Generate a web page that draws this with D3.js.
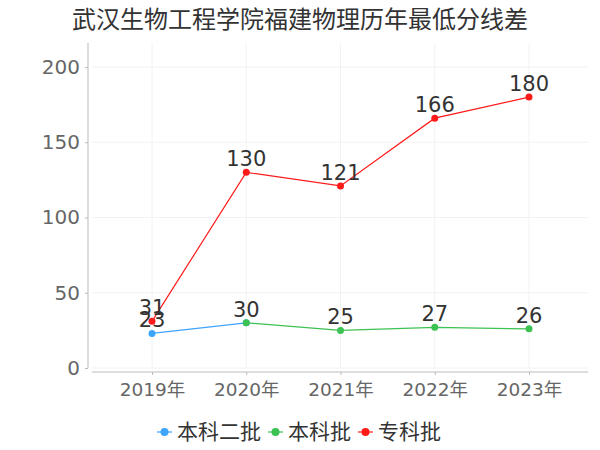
<!DOCTYPE html>
<html>
  <head>
    <meta charset="utf-8">
    <script src="https://d3js.org/d3.v7.min.js"></script>
    <style>
      body { margin: 0; background: white; }
      text { font-family: "DejaVu Sans", "Noto Sans CJK SC", sans-serif; }
      .cjk { font-family: "Noto Sans CJK SC", sans-serif; }
    </style>
  </head>
  <body>
    <div id="chart"></div>
<script>
var title = "武汉生物工程学院福建物理历年最低分线差";
var years = ["2019年", "2020年", "2021年", "2022年", "2023年"];
var yTicks = [0, 50, 100, 150, 200];

// null = no value that year
var seriesNames = ["本科二批", "本科批", "专科批"];
var seriesColors = ["#3ea5ff", "#3cc252", "#ff1a1a"];
var benke2 = [23, 30, null, null, null];
var benke = [null, 30, 25, 27, 26];
var zhuanke = [31, 130, 121, 166, 180];

var seriesValues = [benke2, benke, zhuanke];

var width = 600, height = 450;

var svg = d3.select("#chart").append("svg")
  .attr("width", width)
  .attr("height", height)
  .style("background", "white");

var x = d3.scalePoint()
  .domain(years)
  .range([152, 529]);

var y = d3.scaleLinear()
  .domain([0, 200])
  .range([368, 67]);

// grid
svg.append("g").selectAll("line.h")
  .data(yTicks)
  .enter().append("line")
  .attr("x1", 92).attr("x2", 588)
  .attr("y1", function(d) { return y(d); })
  .attr("y2", function(d) { return y(d); })
  .style("stroke", "#f2f2f2");

svg.append("g").selectAll("line.v")
  .data(years)
  .enter().append("line")
  .attr("x1", function(d) { return x(d); })
  .attr("x2", function(d) { return x(d); })
  .attr("y1", 43).attr("y2", 368)
  .style("stroke", "#f2f2f2");

// y axis
var yAxis = svg.append("g")
  .attr("transform", "translate(88,0)")
  .call(d3.axisLeft(y).tickValues(yTicks).tickSize(3).tickPadding(5));
yAxis.select(".domain").remove();
yAxis.append("line")
  .attr("x1", 0).attr("x2", 0).attr("y1", 43).attr("y2", 368)
  .style("stroke", "#bbb");
yAxis.selectAll(".tick line").style("stroke", "#bbb");
yAxis.selectAll(".tick text")
  .style("font-size", "20px")
  .style("fill", "#666")
  .style("font-family", "DejaVu Sans, sans-serif");

// x axis
var xAxis = svg.append("g")
  .attr("transform", "translate(0,372)")
  .call(d3.axisBottom(x).tickSize(3).tickPadding(8));
xAxis.select(".domain").remove();
xAxis.append("line")
  .attr("x1", 92).attr("x2", 588).attr("y1", 0).attr("y2", 0)
  .style("stroke", "#bbb");
xAxis.selectAll(".tick line").style("stroke", "#bbb");
xAxis.selectAll(".tick text")
  .style("font-size", "18.5px")
  .style("fill", "#666")
  .style("font-family", "DejaVu Sans, Noto Sans CJK SC, sans-serif");

// lines
var line = d3.line()
  .defined(function(d) { return d != null; })
  .x(function(d, i) { return x(years[i]); })
  .y(function(d) { return y(d); });

seriesValues.forEach(function(vals, s) {
  var g = svg.append("g");
  g.append("path")
    .datum(vals)
    .attr("d", line)
    .style("fill", "none")
    .style("stroke", seriesColors[s])
    .style("stroke-width", 1.2);

  var pts = vals.map(function(v, i) { return {v: v, i: i}; })
    .filter(function(d) { return d.v != null; });

  g.selectAll("circle")
    .data(pts)
    .enter().append("circle")
    .attr("cx", function(d) { return x(years[d.i]); })
    .attr("cy", function(d) { return y(d.v); })
    .attr("r", 3.5)
    .style("fill", seriesColors[s]);
});

// value labels on top, one per spot
var seen = {};
seriesValues.forEach(function(vals, s) {
  var pts = vals.map(function(v, i) { return {v: v, i: i}; })
    .filter(function(d) {
      if (d.v == null) return false;
      var k = d.i + "_" + d.v;
      if (seen[k]) return false;
      seen[k] = true;
      return true;
    });
  svg.append("g").selectAll("text")
    .data(pts)
    .enter().append("text")
    .attr("x", function(d) { return x(years[d.i]); })
    .attr("y", function(d) { return y(d.v) - 6; })
    .attr("text-anchor", "middle")
    .style("font-size", "21px")
    .style("fill", "#333")
    .text(function(d) { return d.v; });
});

// title
svg.append("text")
  .attr("class", "cjk")
  .attr("x", 300)
  .attr("y", 28)
  .attr("text-anchor", "middle")
  .style("font-size", "24px")
  .style("fill", "#333")
  .text(title);

// legend
var legendX = [157, 268, 358];
var legend = svg.append("g");
seriesNames.forEach(function(name, i) {
  var lg = legend.append("g").attr("transform", "translate(" + legendX[i] + ",432)");
  lg.append("line")
    .attr("x1", 0).attr("x2", 15).attr("y1", 0).attr("y2", 0)
    .style("stroke", seriesColors[i])
    .style("stroke-width", 2)
    .style("opacity", 0.6);
  lg.append("circle")
    .attr("cx", 7.5).attr("cy", 0).attr("r", 4)
    .style("fill", seriesColors[i]);
  lg.append("text")
    .attr("class", "cjk")
    .attr("x", 20)
    .attr("y", 0)
    .attr("dy", "0.35em")
    .style("font-size", "21px")
    .style("fill", "#333")
    .text(name);
});
</script>
  </body>
</html>
